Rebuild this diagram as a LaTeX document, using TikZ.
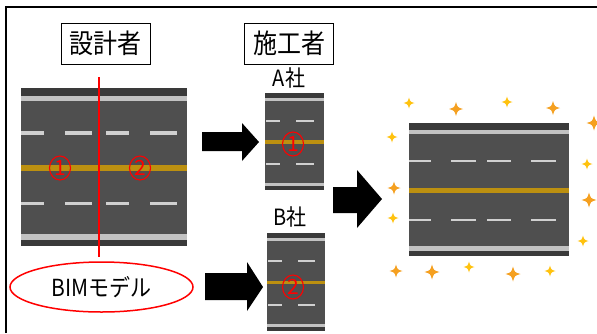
\documentclass[tikz,border=0pt]{standalone}
\usepackage{fontspec}
\newfontfamily\jp{Noto Sans CJK JP}
\usetikzlibrary{shapes.geometric}
\definecolor{asph}{HTML}{4F4F4F}
\definecolor{rim}{HTML}{3A3A3A}
\definecolor{edgeline}{HTML}{C2C2C2}
\definecolor{laneline}{HTML}{D0D0D0}
\definecolor{ctrline}{HTML}{BC9010}
\definecolor{sparkO}{HTML}{F5A020}
\definecolor{sparkY}{HTML}{FFC20E}
\definecolor{lotred}{HTML}{FF0000}
% slightly tall lettering
\newcommand\tall[1]{\scalebox{1}[1.12]{#1}}
% road: x0, y0, x1, y1, list of lane-dash fractions a/b
\newcommand\road[5]{%
  \pgfmathsetmacro\rw{#3-#1}\pgfmathsetmacro\rh{#4-#2}%
  \fill[asph] (#1,#2) rectangle (#3,#4);
  \fill[rim] (#1,#2) rectangle (#3,#2+0.05*\rh);
  \fill[rim] (#1,#4-0.04*\rh) rectangle (#3,#4);
  \fill[edgeline] (#1,#2+0.05*\rh) rectangle (#3,#2+0.085*\rh);
  \fill[edgeline] (#1,#4-0.075*\rh) rectangle (#3,#4-0.04*\rh);
  \fill[ctrline] (#1,#2+0.485*\rh) rectangle (#3,#2+0.525*\rh);
  \foreach \a/\b in {#5}{%
    \fill[laneline] (#1+\a*\rw,#2+0.275*\rh) rectangle (#1+\b*\rw,#2+0.295*\rh);
    \fill[laneline] (#1+\a*\rw,#2+0.72*\rh) rectangle (#1+\b*\rw,#2+0.74*\rh);
  }%
}
\tikzset{
  titlebox/.style={draw=black, line width=0.8pt, fill=white, minimum width=89pt,
    minimum height=41pt, inner sep=0pt, font=\jp\fontsize{24}{24}\selectfont},
  firm/.style={font=\jp\fontsize{20}{20}\selectfont, inner sep=0pt},
  lot/.style={ellipse, draw=lotred, line width=1.1pt, text=lotred,
    minimum width=21pt, minimum height=24pt, inner sep=0pt,
    font=\jp\fontsize{21}{21}\selectfont},
  blockarrow/.style={fill=black}
}
\begin{document}
\begin{tikzpicture}[x=1pt,y=-1pt]
\useasboundingbox (0,0) rectangle (597,333);
\fill[white] (0,0) rectangle (597,333);
% frame
\draw[line width=1.6pt] (6,333) -- (6,7) -- (597,7);

% designer side
\node[titlebox] (designer) at (105.5,43.5) {\tall{設計者}};
\road{21}{88}{187}{246}{0/0.14,0.265/0.43,0.51/0.65,0.78/0.94}
\node[lot] (d1) at (60,168) {1};
\node[lot] (d2) at (140,168) {2};
\node[draw=lotred, line width=1.5pt, ellipse, minimum width=183pt, minimum height=50pt,
  inner sep=0pt, font=\jp\fontsize{21}{21}\selectfont] (bim) at (101.5,287) {\tall{BIMモデル}};
\coordinate (cutTop) at (99,77);
\coordinate (cutBot) at (99,257);
\draw[lotred, line width=1.2pt] (cutTop) -- (cutBot);

% contractor side
\node[titlebox] (builder) at (289,43.5) {\tall{施工者}};
\node[firm] (firmA) at (289,78) {\tall{A社}};
\road{265}{93}{324}{190}{0.02/0.25,0.53/0.83}
\node[lot] (a1) at (293,144) {1};
\node[firm] (firmB) at (290,217) {\tall{B社}};
\road{267}{233}{325}{331}{0.02/0.25,0.53/0.83}
\node[lot] (b2) at (293,287) {2};

% block arrows
\fill[blockarrow] (202,132) -- (242,132) -- (242,123) -- (259,142) -- (242,161)
  -- (242,151) -- (202,151) -- cycle;
\fill[blockarrow] (205,273) -- (247,273) -- (247,262) -- (263,287) -- (247,311)
  -- (247,300) -- (205,300) -- cycle;
\fill[blockarrow] (333,187) -- (357,187) -- (357,170) -- (382,199) -- (357,228)
  -- (357,213) -- (333,213) -- cycle;

% finished road
\road{409}{123}{569}{256}{0/0.14,0.26/0.42,0.49/0.64,0.76/0.92}

% four-point sparkles around the finished road
\foreach \x/\y/\r/\c in {
  409/103/5.5/sparkY, 456/109/7/sparkO, 507/102/5.5/sparkY, 553/108/7/sparkO,
  594/123/7.5/sparkO, 392/137/5.5/sparkY, 587/164/5.5/sparkY, 394/188/6.5/sparkO,
  589/200/7.5/sparkO, 393/218/5.5/sparkY, 583/241/5.5/sparkY, 396/271/6.5/sparkO,
  432/272/7.5/sparkO, 469/267/5.5/sparkY, 513/274/7.5/sparkO, 550/271/5.5/sparkY}
  \fill[\c] (\x,\y-\r) .. controls (\x+0.22*\r,\y-0.22*\r) .. (\x+\r,\y)
    .. controls (\x+0.22*\r,\y+0.22*\r) .. (\x,\y+\r)
    .. controls (\x-0.22*\r,\y+0.22*\r) .. (\x-\r,\y)
    .. controls (\x-0.22*\r,\y-0.22*\r) .. cycle;
\end{tikzpicture}
\end{document}
